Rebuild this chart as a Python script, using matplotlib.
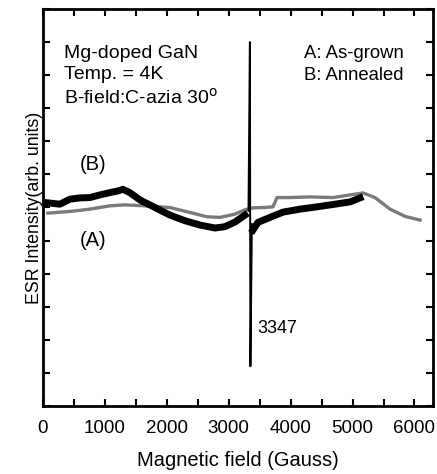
import matplotlib
matplotlib.use('Agg')
import matplotlib.pyplot as plt
from matplotlib.ticker import MultipleLocator, NullFormatter

plt.rcParams['font.family'] = ['Liberation Sans', 'DejaVu Sans']

# curve A (as-grown)
a_field = [81, 436, 759, 1082, 1325, 1648, 2052, 2375, 2650, 2860, 3102, 3263,
           3393, 3587, 3716, 3780, 3990, 4313, 4685, 4960, 5170, 5363, 5606, 5848, 6090]
a_signal = [5.83, 5.88, 5.95, 6.05, 6.08, 6.05, 6.00, 5.85, 5.72, 5.70, 5.80, 5.93,
            5.99, 6.00, 6.02, 6.30, 6.30, 6.32, 6.30, 6.38, 6.44, 6.30, 5.95, 5.73, 5.62]

# curve B (annealed), split around the sharp line
b_field_lo = [81, 275, 436, 598, 759, 921, 1082, 1212, 1292, 1405, 1567, 1809,
              2052, 2294, 2536, 2779, 2940, 3102, 3263]
b_signal_lo = [6.14, 6.10, 6.25, 6.29, 6.30, 6.38, 6.45, 6.50, 6.55, 6.45, 6.23, 6.00,
               5.77, 5.60, 5.47, 5.38, 5.42, 5.56, 5.77]
b_field_hi = [3393, 3473, 3667, 3877, 4152, 4426, 4717, 4960, 5121]
b_signal_hi = [5.32, 5.55, 5.70, 5.86, 5.95, 6.02, 6.10, 6.17, 6.29]

# sharp resonance at 3347 G
line_field = [3320, 3343, 3347, 3351, 3375]
line_signal = [5.9, 11.0, 6.0, 1.2, 5.5]

fig = plt.figure(figsize=(4.37, 4.74), dpi=100)
ax = fig.add_axes([0.098, 0.1435, 0.893, 0.8375])

ax.plot(a_field, a_signal, color='#7a7a7a', lw=2.4)
ax.plot(b_field_lo, b_signal_lo, color='black', lw=5)
ax.plot(b_field_hi, b_signal_hi, color='black', lw=5)
ax.plot(line_field, line_signal, color='black', lw=1.4)

ax.set_xlim(0, 6300)
ax.set_ylim(0, 12)
ax.xaxis.set_major_locator(MultipleLocator(1000))
ax.xaxis.set_minor_locator(MultipleLocator(500))
ax.yaxis.set_major_locator(MultipleLocator(1))
ax.yaxis.set_major_formatter(NullFormatter())
ax.tick_params(which='both', direction='in', top=True, right=True, width=1.5, length=5,
               labelsize=13.5, pad=10)
for s in ax.spines.values():
    s.set_linewidth(2)

ax.set_xlabel('Magnetic field (Gauss)', fontsize=14.5, labelpad=10)
ax.set_ylabel('ESR Intensity(arb. units)', fontsize=12.8, labelpad=-10)

ax.text(0.055, 0.91, 'Mg-doped GaN\nTemp. = 4K\nB-field:C-azia 30$^{\\rm o}$',
        transform=ax.transAxes, fontsize=14, va='top', ha='left', linespacing=1.3)
ax.text(0.67, 0.91, 'A: As-grown\nB: Annealed', transform=ax.transAxes,
        fontsize=13.3, va='top', ha='left', linespacing=1.38)
ax.text(600, 7.3, '(B)', fontsize=14.5, va='center')
ax.text(600, 5.0, '(A)', fontsize=14.5, va='center')
ax.text(3470, 2.35, '3347', fontsize=13, va='center')

fig.savefig('out.png', dpi=100)
